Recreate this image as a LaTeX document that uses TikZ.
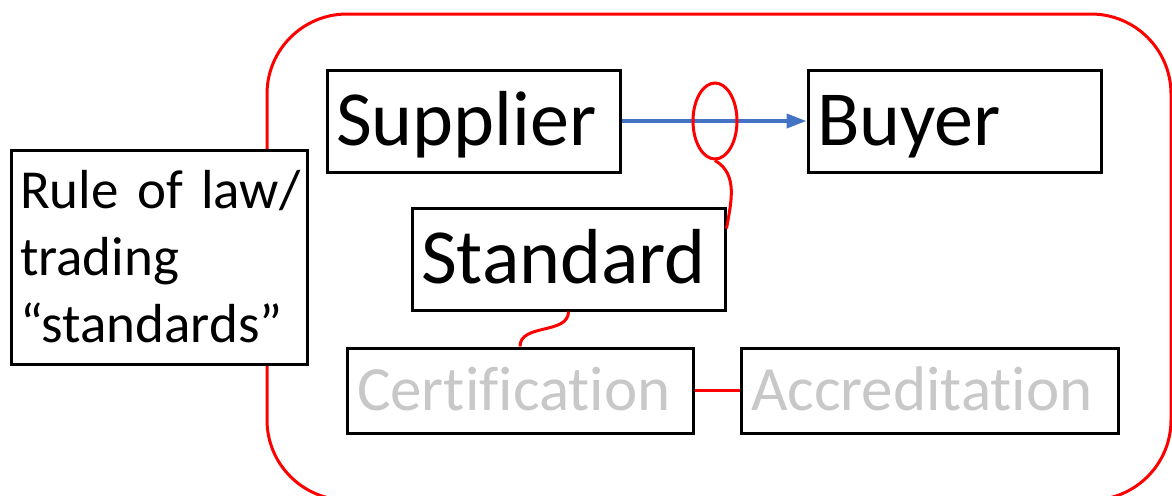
\documentclass[tikz,border=0pt]{standalone}
\usepackage{fontspec}
\setmainfont{Carlito}[Ligatures=NoCommon]
\usepackage{tikz}
\usetikzlibrary{arrows.meta,shapes,positioning}
\usepackage{xcolor}
\definecolor{ptred}{RGB}{255,0,0}
\definecolor{ptblue}{RGB}{68,114,196}
\definecolor{ptgrey}{RGB}{200,200,200}
\tikzstyle{party} = [rectangle, draw=black, fill=white, line width=1.5pt, minimum height=51pt, inner xsep=4.5pt, align=left, font=\fontsize{39}{47}\selectfont, text height=28pt, text depth=4pt]
\tikzstyle{scheme} = [rectangle, draw=black, fill=white, line width=1.5pt, minimum height=42.5pt, inner xsep=5pt, align=left, text=ptgrey, font=\fontsize{31.5}{38}\selectfont, text height=22.5pt, text depth=3pt]
\tikzstyle{law} = [rectangle, draw=black, fill=white, line width=1.5pt, minimum width=148pt, minimum height=107pt, inner xsep=4.5pt, text width=139pt, align=left, font=\fontsize{27.5}{33.5}\selectfont]
\tikzstyle{link} = [line width=1.5pt, color=ptred]
\tikzstyle{flow} = [line width=2pt, -{Triangle[length=10pt,width=7pt]}, color=ptblue]

\begin{document}
\begin{tikzpicture}[x=0.5pt, y=-0.5pt]
\useasboundingbox (0,0) rectangle (1172,495);

% Outer frame
\draw[link, rounded corners=40pt] (267,14) rectangle (1171,500);

% Rule of law
\node (law) [law] at (159,257) {\mbox{Rule of law/}\\\mbox{trading}\\\mbox{“standards”}};

% Parties
\node (supplier) [party, minimum width=146.5pt, text width=137.5pt] at (473.5,121) {Supplier};
\node (buyer) [party, minimum width=146.5pt, text width=137.5pt] at (954.5,121) {Buyer};

% Standard
\node (standard) [party, minimum width=156.5pt, text width=147.5pt] at (568.5,259) {Standard};

% Certification and accreditation
\node (cert) [scheme, minimum width=173pt, text width=163pt] at (520,390.5) {Certification};
\node (accred) [scheme, minimum width=188.5pt, text width=178.5pt] at (929.5,390.5) {Accreditation};

% Trade
\draw[flow] (supplier) -- (buyer);
\node (seal) [ellipse, draw=ptred, line width=1.5pt, minimum width=22pt, minimum height=38pt, inner sep=0pt] at (715,121) {};

% Links
\draw[link] (seal.south) to[out=-30, in=80] ([yshift=-11pt]standard.north east);
\draw[link] (standard.south) to[out=-90, in=90] (cert.north);
\draw[link] (cert) -- (accred);
\end{tikzpicture}
\end{document}
